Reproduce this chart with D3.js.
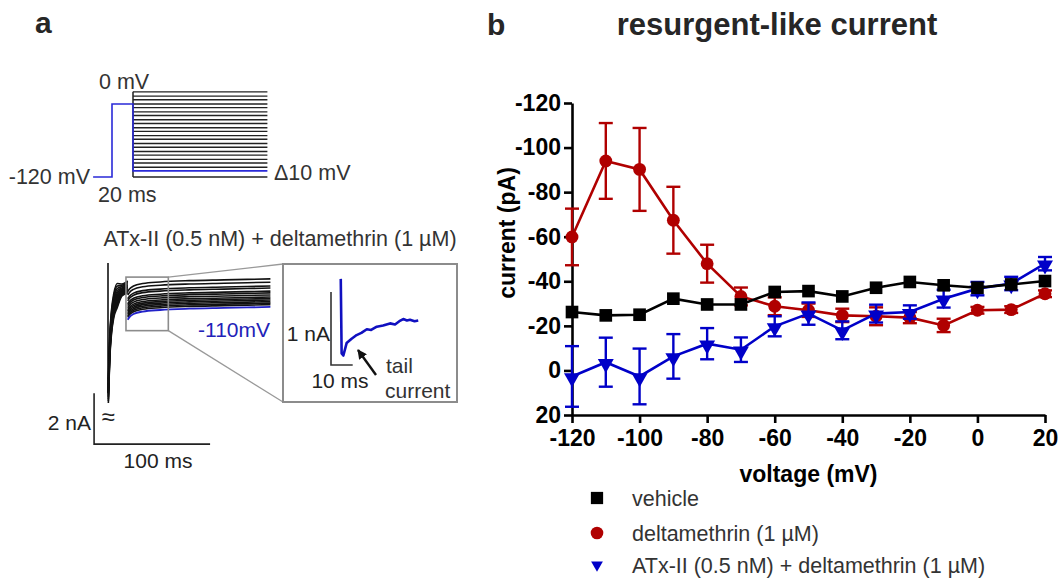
<!DOCTYPE html>
<html>
<head>
<meta charset="utf-8">
<script src="https://cdn.jsdelivr.net/npm/d3@7"></script>
<style>
  body { margin: 0; background: #fff; }
  svg { display: block; font-family: "Liberation Sans", Arial, sans-serif; }
</style>
</head>
<body>
<div id="chart"></div>
<script>
// panel b: resurgent-like current, mean +/- SEM
const voltages = [-120, -110, -100, -90, -80, -70, -60, -50, -40, -30, -20, -10, 0, 10, 20];
const vehicle = [-26.2, -24.7, -25, -32.2, -29.6, -29.6, -35.2, -35.6, -33.2, -37.1, -39.7, -38.2, -37.1, -38.6, -40.1];
const delta = [-59.9, -94, -90.2, -67.4, -47.9, -33.2, -28.8, -27, -24.7, -24.3, -23.7, -20.2, -27, -27.3, -34.4];
const deltaSem = [12.7, 17, 18.6, 15, 8.5, 4, 4, 3, 3, 4, 2.5, 3, 1.5, 1.5, 1.5];
const atx = [2.7, -3.7, 2.7, -6.3, -12, -9.3, -19.8, -25.5, -18, -25.5, -26.2, -32.2, -36.7, -39, -47.9];
const atxSem = [13.6, 11, 12.5, 10, 7, 5.5, 4.5, 5, 4, 4, 3, 4, 3, 3, 3];
const yTicks = [-120, -100, -80, -60, -40, -20, 0, 20];
const xTicks = [-120, -100, -80, -60, -40, -20, 0, 20];
const legendLabels = ['vehicle', 'deltamethrin (1 \u00b5M)', 'ATx-II (0.5 nM) + deltamethrin (1 \u00b5M)'];

// panel a: step protocol (mV) and schematic traces (ms, nA)
const stepLevels = [-104, -97, -91, -84, -78, -71, -65, -58, -52, -45, -39, -32, -26, -19, -13, -6, 0, 7, 13, 20];
const blueProtocol = [[-18, -120], [0, -120], [0, 0], [20, 0], [20, -110], [148, -110]];
const protocolEnd = 148;
const traceLevels = [-0.27, -0.4, -0.55, -0.63, -0.75, -0.82, -0.9, -0.98, -1.04, -1.1, -1.16, -1.22, -1.28];
const blueLevel = -1.37;
const fanOffsets = [0.25, 0.2, 0.15, 0.1, 0.06, 0.02, 0, -0.03, -0.07, -0.1, -0.14, -0.18, -0.22];
const prepulse = [[0.3, -4.7], [1.5, -3.0], [3, -2.0], [5, -1.35], [8, -0.95], [12, -0.72], [17, -0.6]];
const tail = [[17, -0.5], [18.5, -0.4], [22, -0.28], [30, -0.18], [45, -0.12], [70, -0.07], [100, -0.04], [140, 0]];
const spike = [0.35, -4.75];
const zoomWin = { t: [15.5, 52], i: [-0.2, -2.3] };
const insetTrace = [[4.5, 1.18], [4.9, 0.16], [5.7, 0.13], [7.2, 0.3], [9.5, 0.36], [11.8, 0.41], [14, 0.44], [16.5, 0.49],
  [18.5, 0.48], [21.1, 0.525], [24, 0.54], [27.2, 0.57], [29.5, 0.555], [31.5, 0.6], [33.3, 0.63], [35, 0.61], [36.4, 0.62], [38.5, 0.6], [40.2, 0.61]];

const COLORS = { vehicle: '#000000', delta: '#b00000', atx: '#0000c8' };

const W = 1060, H = 584;
const svg = d3.select('#chart').append('svg').attr('width', W).attr('height', H);
svg.append('rect').attr('width', W).attr('height', H).attr('fill', '#fff');

// ---------- panel a ----------
svg.append('text').attr('x', 35).attr('y', 33)
  .attr('font-size', 30).attr('font-weight', 'bold').attr('fill', '#262626').text('a');

const pT = d3.scaleLinear().domain([0, 20]).range([112, 133]);
const pV = d3.scaleLinear().domain([-120, 0]).range([177, 104]);
const proto = svg.append('g');

proto.append('line')
  .attr('x1', pT(20)).attr('x2', pT(20)).attr('y1', pV(20)).attr('y2', pV(-120))
  .attr('stroke', '#111').attr('stroke-width', 1.4);
proto.selectAll('line.step').data(stepLevels.concat([-120])).join('line')
  .attr('class', 'step')
  .attr('x1', pT(20)).attr('x2', pT(protocolEnd))
  .attr('y1', d => pV(d)).attr('y2', d => pV(d))
  .attr('stroke', '#222').attr('stroke-width', 1.4);
proto.append('path')
  .attr('d', d3.line().x(d => pT(d[0])).y(d => pV(d[1]))(blueProtocol))
  .attr('fill', 'none').attr('stroke', '#2a2ad8').attr('stroke-width', 1.6);

const protoText = [
  { x: 99, y: 89, s: '0 mV', a: 'start' },
  { x: 90, y: 184, s: '-120 mV', a: 'end' },
  { x: 98, y: 202, s: '20 ms', a: 'start' },
  { x: 274, y: 180, s: '\u039410 mV', a: 'start' },
];
proto.selectAll('text').data(protoText).join('text')
  .attr('x', d => d.x).attr('y', d => d.y).attr('text-anchor', d => d.a)
  .attr('font-size', 21.5).attr('fill', '#333').text(d => d.s);

svg.append('text').attr('x', 280).attr('y', 246).attr('text-anchor', 'middle')
  .attr('font-size', 21.5).attr('fill', '#333')
  .text('ATx-II (0.5 nM) + deltamethrin (1 \u00b5M)');

const tA = d3.scaleLinear().domain([0, 100]).range([108, 224]);
const iA = d3.scaleLinear().domain([0, -1]).range([272, 297.5]);
const traces = svg.append('g');
const traceLine = d3.line().x(d => tA(d[0])).y(d => iA(d[1])).curve(d3.curveMonotoneX);

// spike
traces.append('line')
  .attr('x1', tA(0)).attr('x2', tA(0)).attr('y1', iA(spike[0])).attr('y2', iA(spike[1]))
  .attr('stroke', '#111').attr('stroke-width', 1.6);

traceLevels.forEach((lvl, k) => {
  const pre = prepulse.map(p => [p[0], p[1] + fanOffsets[k] * (p[0] < 10 ? 2 : 1)]);
  const post = tail.map(p => [p[0], lvl + p[1]]);
  traces.append('path').attr('d', traceLine(pre))
    .attr('fill', 'none').attr('stroke', '#111').attr('stroke-width', 1.6);
  traces.append('path').attr('d', traceLine(post))
    .attr('fill', 'none').attr('stroke', '#111').attr('stroke-width', 1.6);
});
traces.append('path').attr('d', traceLine(tail.map(p => [p[0], blueLevel + p[1]])))
  .attr('fill', 'none').attr('stroke', '#2222c8').attr('stroke-width', 1.8);

svg.append('text').attr('x', 270).attr('y', 337).attr('text-anchor', 'end')
  .attr('font-size', 21).attr('fill', '#2222b8').text('-110mV');

// zoom window and inset
const inset = { x0: 283, y0: 264, x1: 457, y1: 402 };
const zx0 = tA(zoomWin.t[0]), zx1 = tA(zoomWin.t[1]);
const zy0 = iA(zoomWin.i[0]), zy1 = iA(zoomWin.i[1]);
svg.append('rect').attr('x', zx0).attr('y', zy0).attr('width', zx1 - zx0).attr('height', zy1 - zy0)
  .attr('fill', 'none').attr('stroke', '#8c8c8c').attr('stroke-width', 1.6);
svg.append('line').attr('x1', zx1).attr('y1', zy0).attr('x2', inset.x0).attr('y2', inset.y0)
  .attr('stroke', '#999').attr('stroke-width', 1.3);
svg.append('line').attr('x1', zx1).attr('y1', zy1).attr('x2', inset.x0).attr('y2', inset.y1)
  .attr('stroke', '#999').attr('stroke-width', 1.3);
svg.append('rect').attr('x', inset.x0).attr('y', inset.y0)
  .attr('width', inset.x1 - inset.x0).attr('height', inset.y1 - inset.y0)
  .attr('fill', '#fff').attr('stroke', '#8c8c8c').attr('stroke-width', 2);

const tI = d3.scaleLinear().domain([0, 10]).range([331, 352.7]);
const iI = d3.scaleLinear().domain([0, 1]).range([365, 292]);
svg.append('path')
  .attr('d', d3.line().x(d => tI(d[0])).y(d => iI(d[1]))(insetTrace))
  .attr('fill', 'none').attr('stroke', '#1010c0').attr('stroke-width', 2.6).attr('stroke-linejoin', 'round');
svg.append('path')
  .attr('d', `M${tI(0)},${iI(1)}V${iI(0)}H${tI(10)}`)
  .attr('fill', 'none').attr('stroke', '#333').attr('stroke-width', 1.6);
svg.append('text').attr('x', 330).attr('y', 341).attr('text-anchor', 'end')
  .attr('font-size', 21).attr('fill', '#222').text('1 nA');
svg.append('text').attr('x', 340).attr('y', 388).attr('text-anchor', 'middle')
  .attr('font-size', 21).attr('fill', '#222').text('10 ms');
svg.append('text').attr('x', 386).attr('y', 373)
  .attr('font-size', 21).attr('fill', '#333').text('tail');
svg.append('text').attr('x', 385).attr('y', 398)
  .attr('font-size', 21).attr('fill', '#333').text('current');

svg.append('defs').append('marker')
  .attr('id', 'arrow').attr('viewBox', '0 0 10 10').attr('refX', 9).attr('refY', 5)
  .attr('markerWidth', 4).attr('markerHeight', 4).attr('orient', 'auto')
  .append('path').attr('d', 'M0,0L10,5L0,10z').attr('fill', '#111');
svg.append('line').attr('x1', 376).attr('y1', 375).attr('x2', 358).attr('y2', 350)
  .attr('stroke', '#111').attr('stroke-width', 2.4).attr('marker-end', 'url(#arrow)');

// main scale bar
svg.append('path')
  .attr('d', `M${tA(-12)},${iA(-4.75)}V${iA(-6.75)}H${tA(88)}`)
  .attr('fill', 'none').attr('stroke', '#222').attr('stroke-width', 1.6);
svg.append('text').attr('x', 91).attr('y', 430).attr('text-anchor', 'end')
  .attr('font-size', 21).attr('fill', '#222').text('2 nA');
svg.append('text').attr('x', 108).attr('y', 425).attr('text-anchor', 'middle')
  .attr('font-size', 24).attr('fill', '#222').text('\u2248');
svg.append('text').attr('x', 158).attr('y', 468).attr('text-anchor', 'middle')
  .attr('font-size', 21).attr('fill', '#222').text('100 ms');

// ---------- panel b ----------
svg.append('text').attr('x', 487).attr('y', 35)
  .attr('font-size', 30).attr('font-weight', 'bold').attr('fill', '#262626').text('b');
svg.append('text').attr('x', 777).attr('y', 35).attr('text-anchor', 'middle')
  .attr('font-size', 31).attr('font-weight', 'bold').attr('fill', '#262626').text('resurgent-like current');

const x = d3.scaleLinear().domain([-120, 20]).range([572, 1045]);
const y = d3.scaleLinear().domain([-120, 20]).range([103, 415]);
const fmt = d => String(d);

const xAxis = svg.append('g').attr('transform', `translate(0,${y(20)})`)
  .call(d3.axisBottom(x).tickValues(xTicks).tickFormat(fmt).tickSize(8).tickPadding(5).tickSizeOuter(0));
const yAxis = svg.append('g').attr('transform', `translate(${x(-120)},0)`)
  .call(d3.axisLeft(y).tickValues(yTicks).tickFormat(fmt).tickSize(8).tickPadding(3).tickSizeOuter(0));
[xAxis, yAxis].forEach(g => {
  g.select('.domain').attr('stroke', '#000').attr('stroke-width', 2.6);
  g.selectAll('.tick line').attr('stroke', '#000').attr('stroke-width', 2.6);
  g.selectAll('.tick text').attr('fill', '#000').attr('font-size', 23).attr('font-weight', 'bold')
    .attr('font-family', '"Liberation Sans", Arial, sans-serif');
});
xAxis.selectAll('.tick text').attr('dy', '0.8em');

svg.append('text').attr('x', (x(-120) + x(20)) / 2).attr('y', 482).attr('text-anchor', 'middle')
  .attr('font-size', 23).attr('font-weight', 'bold').attr('fill', '#000').text('voltage (mV)');
svg.append('text').attr('transform', `translate(515,233) rotate(-90)`).attr('text-anchor', 'middle')
  .attr('font-size', 23).attr('font-weight', 'bold').attr('fill', '#000').text('current (pA)');

const series = [
  { key: 'delta', mean: delta, sem: deltaSem, symbol: d3.symbolCircle, size: 130, rot: 0 },
  { key: 'atx', mean: atx, sem: atxSem, symbol: d3.symbolTriangle, size: 110, rot: 180 },
  { key: 'vehicle', mean: vehicle, sem: null, symbol: d3.symbolSquare, size: 160, rot: 0 },
];

const plot = svg.append('g');
series.forEach(s => {
  const pts = voltages.map((v, i) => ({ v, m: s.mean[i], e: s.sem ? s.sem[i] : 0 }));
  const g = plot.append('g').attr('class', s.key);
  const col = COLORS[s.key];
  if (s.sem) {
    const eb = g.selectAll('g.err').data(pts).join('g').attr('class', 'err');
    eb.append('line')
      .attr('x1', d => x(d.v)).attr('x2', d => x(d.v))
      .attr('y1', d => y(d.m - d.e)).attr('y2', d => y(d.m + d.e))
      .attr('stroke', col).attr('stroke-width', 2.4);
    [-1, 1].forEach(sg => {
      eb.append('line')
        .attr('x1', d => x(d.v) - 7).attr('x2', d => x(d.v) + 7)
        .attr('y1', d => y(d.m + sg * d.e)).attr('y2', d => y(d.m + sg * d.e))
        .attr('stroke', col).attr('stroke-width', 2.4);
    });
  }
  g.append('path')
    .attr('d', d3.line().x(d => x(d.v)).y(d => y(d.m))(pts))
    .attr('fill', 'none').attr('stroke', col).attr('stroke-width', 2.6);
  g.selectAll('path.pt').data(pts).join('path').attr('class', 'pt')
    .attr('d', d3.symbol(s.symbol, s.size))
    .attr('transform', d => `translate(${x(d.v)},${y(d.m) + (s.rot ? 1.5 : 0)}) rotate(${s.rot})`)
    .attr('fill', col);
});

// legend
const legendSym = [
  { symbol: d3.symbolSquare, size: 150, rot: 0, col: COLORS.vehicle },
  { symbol: d3.symbolCircle, size: 125, rot: 0, col: COLORS.delta },
  { symbol: d3.symbolTriangle, size: 60, rot: 180, col: COLORS.atx },
];
const legend = svg.append('g');
const rowsY = [498, 533, 565];
legendLabels.forEach((lab, i) => {
  legend.append('path')
    .attr('d', d3.symbol(legendSym[i].symbol, legendSym[i].size))
    .attr('transform', `translate(597,${rowsY[i]}) rotate(${legendSym[i].rot})`)
    .attr('fill', legendSym[i].col);
  legend.append('text').attr('x', 632).attr('y', rowsY[i] + 7.5)
    .attr('font-size', 21.5).attr('fill', '#333').text(lab);
});
</script>
</body>
</html>
